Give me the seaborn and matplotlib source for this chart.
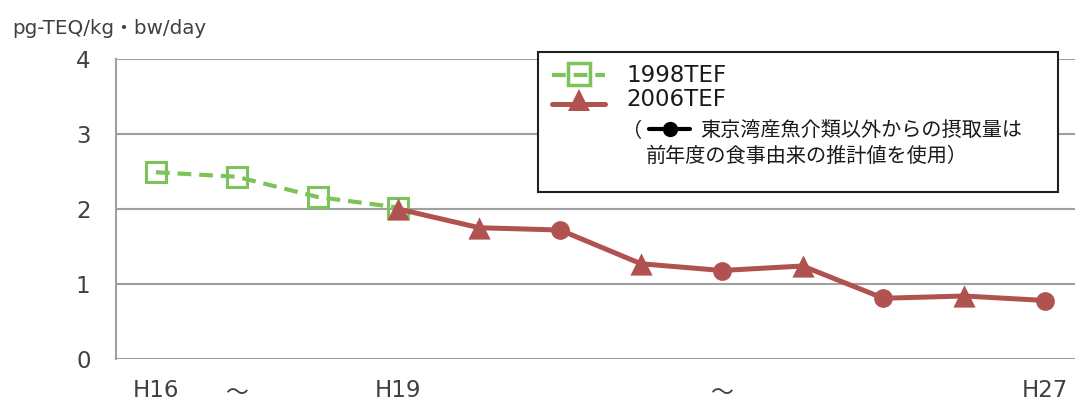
import matplotlib
matplotlib.use("Agg")
import matplotlib.pyplot as plt
from matplotlib.lines import Line2D
from matplotlib.patches import Rectangle
from matplotlib.transforms import ScaledTranslation
import pandas as pd
import seaborn as sns

# data
years = ["H16", "H17", "H18", "H19", "H20", "H21", "H22", "H23", "H24", "H25", "H26", "H27"]
tick_text = ["H16", "～", "", "H19", "", "", "", "～", "", "", "", "H27"]
years_1998 = ["H16", "H17", "H18", "H19"]
tef_1998 = [2.49, 2.43, 2.16, 2.02]
years_2006 = ["H19", "H20", "H21", "H22", "H23", "H24", "H25", "H26", "H27"]
tef_2006 = [2.00, 1.75, 1.72, 1.27, 1.18, 1.24, 0.81, 0.84, 0.78]
kind_2006 = ["tri", "tri", "cir", "tri", "cir", "tri", "cir", "tri", "cir"]

green = "#7CC35A"
red = "#B0524F"
txt = "#404040"
grid = "#A0A0A0"

sns.set_theme(style="white")
plt.rcParams["font.family"] = ["DejaVu Sans", "Noto Sans CJK JP"]

df98 = pd.DataFrame({"year": years_1998, "value": tef_1998})
df98["pos"] = df98["year"].map(years.index)
df06 = pd.DataFrame({"year": years_2006, "value": tef_2006, "kind": kind_2006})
df06["pos"] = df06["year"].map(years.index)

W, H = 1075, 403
fig = plt.figure(figsize=(W / 100, H / 100), dpi=100)
# plot area runs a little past the right edge of the picture, like the original
ax = fig.add_axes([115.5 / W, 44 / H, 970 / W, 300 / H])

# 1998TEF dashed line with hollow squares
sns.lineplot(data=df98, x="pos", y="value", ax=ax, color=green, lw=3,
             linestyle=(0, (3.3, 1.9)), marker="s", ms=15, mfc="none",
             mec=green, mew=2.2, zorder=3)

# 2006TEF solid line, triangles / circles
sns.lineplot(data=df06, x="pos", y="value", ax=ax, color=red, lw=3.6, zorder=4)
sns.scatterplot(data=df06[df06["kind"] == "tri"], x="pos", y="value", ax=ax,
                marker="^", s=256, color=red, edgecolor=red, linewidth=0, zorder=5)
sns.scatterplot(data=df06[df06["kind"] == "cir"], x="pos", y="value", ax=ax,
                marker="o", s=182, color=red, edgecolor=red, linewidth=0, zorder=5)

ax.set_xlim(-0.5, len(years) - 0.5)
ax.set_ylim(0, 4)
ax.set_yticks([0, 1, 2, 3, 4])
ax.yaxis.grid(True, color=grid, lw=1.5)
ax.set_axisbelow(True)
ax.set_xticks(range(len(years)))
ax.set_xticklabels(tick_text)
ax.tick_params(axis="x", length=0, pad=14.5, labelsize=16.5, labelcolor=txt)
ax.tick_params(axis="y", length=0, pad=18, labelsize=16.5, labelcolor=txt)
for lab in ax.get_xticklabels():
    if lab.get_text() == "～":
        lab.set_transform(lab.get_transform() + ScaledTranslation(0, -3 / 100, fig.dpi_scale_trans))
ax.set_xlabel("")
ax.set_ylabel("")
for s in ["top", "right", "bottom"]:
    ax.spines[s].set_visible(False)
ax.spines["left"].set_color(grid)
ax.spines["left"].set_linewidth(1.5)


def px(x, y):
    return x / W, 1 - y / H


fig.text(*px(12, 28), "pg-TEQ/kg・bw/day", fontsize=14.3, color=txt, va="center", ha="left")

# legend box
x0, y0 = px(538, 192)
x1, y1 = px(1058, 52)
fig.add_artist(Rectangle((x0, y0), x1 - x0, y1 - y0, transform=fig.transFigure,
                         facecolor="white", edgecolor="#202020", lw=1.5, zorder=10))

lx = [552 / W, 605 / W]
fig.add_artist(Line2D(lx, [px(0, 75)[1]] * 2, transform=fig.transFigure, color=green, lw=3,
                      linestyle=(0, (3.3, 1.9)), zorder=11))
fig.add_artist(Line2D([579 / W], [px(0, 74)[1]], transform=fig.transFigure, marker="s", ms=15.5,
                      mfc="none", mec=green, mew=2.5, zorder=12))
fig.add_artist(Line2D(lx, [px(0, 104)[1]] * 2, transform=fig.transFigure, color=red, lw=3.6, zorder=11))
fig.add_artist(Line2D([579 / W], [px(0, 100)[1]], transform=fig.transFigure, marker="^", ms=16,
                      color=red, mew=0, zorder=12))
fig.text(*px(626, 75), "1998TEF", fontsize=16.5, color="#1a1a1a", va="center", ha="left", zorder=11)
fig.text(*px(626, 100), "2006TEF", fontsize=16.5, color="#1a1a1a", va="center", ha="left", zorder=11)

fig.text(*px(622, 131), "（", fontsize=14.5, color="#1a1a1a", va="center", ha="left", zorder=11)
fig.add_artist(Line2D([649 / W, 690 / W], [px(0, 129)[1]] * 2, transform=fig.transFigure,
                      color="black", lw=3, zorder=11))
fig.add_artist(Line2D([670 / W], [px(0, 129)[1]], transform=fig.transFigure, marker="o", ms=11,
                      color="black", mew=0, zorder=12))
fig.text(*px(700, 131), "東京湾産魚介類以外からの摂取量は", fontsize=14.5, color="#1a1a1a",
         va="center", ha="left", zorder=11)
fig.text(*px(646, 156), "前年度の食事由来の推計値を使用）", fontsize=14.5, color="#1a1a1a",
         va="center", ha="left", zorder=11)

fig.savefig("out.png", dpi=100)
